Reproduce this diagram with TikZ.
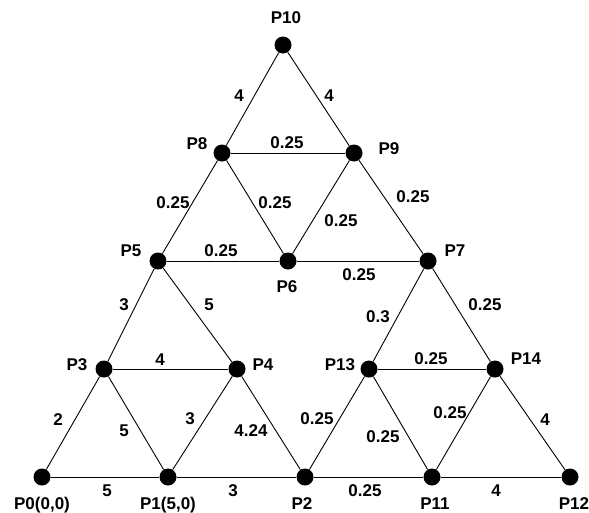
\documentclass[tikz,border=0pt]{standalone}
\usepackage{fontspec}
\setmainfont{Liberation Sans}

\begin{document}
\begin{tikzpicture}[x=1pt,y=-1pt,font=\fontsize{17}{19}\selectfont\bfseries]
  \tikzset{dot/.style={circle,fill=black,inner sep=0pt,minimum size=17pt},
    wire/.style={line width=0.9pt},
    lbl/.style={inner sep=0pt,text height=12pt,text depth=0pt}}
  \useasboundingbox (0,0) rectangle (589,512);
  % points
  \foreach \n/\x/\y in {0/42/477,1/168/477,2/305/477,11/432/477,12/570/477,
      3/104/369,4/237/369,13/369/369,14/495/369,
      5/158/261,6/288/261,7/428/261,8/222/153,9/354/153,10/283/45}
    \node[dot] (p\n) at (\x,\y) {};
  % point names
  \node[lbl] (n10) at (286,17) {P10};
  \node[lbl] (n8) at (197,143) {P8};
  \node[lbl] (n9) at (389,148) {P9};
  \node[lbl] (n5) at (131,250) {P5};
  \node[lbl] (n6) at (287,286) {P6};
  \node[lbl] (n7) at (455,250) {P7};
  \node[lbl] (n3) at (77,364) {P3};
  \node[lbl] (n4) at (263,364) {P4};
  \node[lbl] (n13) at (340,364) {P13};
  \node[lbl] (n14) at (526,358) {P14};
  \node[lbl] (n0) at (42,503) {P0(0,0)};
  \node[lbl] (n1) at (168,503) {P1(5,0)};
  \node[lbl] (n2) at (302,503) {P2};
  \node[lbl] (n11) at (435,503) {P11};
  \node[lbl] (n12) at (574,503) {P12};
  % links and weights
  \foreach \a/\b/\x/\y/\w in {10/8/239/95/4,10/9/329/95/4,8/9/287/142/0.25,
      8/5/173/202/0.25,8/6/275/202/0.25,9/6/341/220/0.25,9/7/413/196/0.25,
      5/6/221/250/0.25,6/7/359/274/0.25,
      5/3/124/304/3,5/4/209/304/5,7/13/378/316/0.3,7/14/485/304/0.25,
      3/4/160/359/4,3/0/58/419/2,3/1/124/430/5,4/1/190/418/3,4/2/251/430/4.24,
      0/1/107/490/5,1/2/233/490/3,
      13/14/431/358/0.25,13/2/317/418/0.25,13/11/383/436/0.25,
      14/11/450/412/0.25,14/12/545/419/4,2/11/365/490/0.25,11/12/496/490/4}{
    \draw[wire] (p\a) -- (p\b);
    \node[lbl] (w\a-\b) at (\x,\y) {\w};
  }
\end{tikzpicture}
\end{document}
